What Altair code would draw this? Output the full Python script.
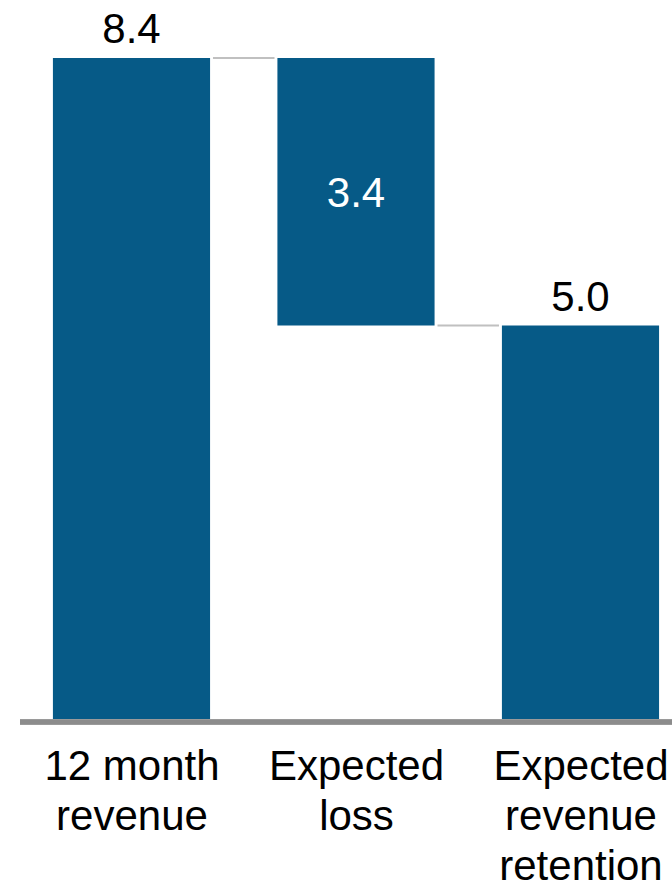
import json
import altair as alt
import pandas as pd

# ---- data ----
categories = ["12 month revenue", "Expected loss", "Expected revenue retention"]
label_lines = [["12 month", "revenue"], ["Expected", "loss"], ["Expected", "revenue", "retention"]]
changes = [8.4, -3.4, 5.0]
kinds = ["total", "delta", "total"]

# build waterfall table
rows = []
running = 0.0
for i, (c, v, k) in enumerate(zip(categories, changes, kinds)):
    if k == "total":
        start, end = 0.0, v
        running = v
    else:
        start, end = running, running + v
        running = end
    rows.append({"idx": i, "cat": c, "start": start, "end": end,
                 "top": max(start, end), "mid": (start + end) / 2,
                 "label": f"{abs(v):.1f}", "kind": k})
df = pd.DataFrame(rows)

conn = pd.DataFrame([
    {"idx": i, "level": df.loc[i, "end"]} for i in range(len(df) - 1)
])

HALF = 0.35
GAP = 0.013
FONT = "Liberation Sans"
BAR = "#065A87"

xscale = alt.Scale(domain=[-0.5857, 2.4076], nice=False, zero=False)
yscale = alt.Scale(domain=[0, 9.137], nice=False, zero=False)

label_expr = json.dumps(label_lines) + "[round(datum.value)]"

base = alt.Chart(df)

bars = base.transform_calculate(
    x0=f"datum.idx - {HALF}", x1=f"datum.idx + {HALF}"
).mark_bar(color=BAR).encode(
    x=alt.X("x0:Q", scale=xscale,
            axis=alt.Axis(values=[0, 1, 2], labelExpr=label_expr, domain=False,
                          ticks=False, grid=False, title=None, labelFont=FONT,
                          labelFontSize=42, labelColor="#000", labelLineHeight=50,
                          labelPadding=27, labelBaseline="top", labelAlign="center",
                          labelOverlap=False, labelBound=False, labelFlush=False)),
    x2="x1:Q",
    y=alt.Y("start:Q", scale=yscale, axis=None),
    y2="end:Q",
)

connectors = alt.Chart(conn).transform_calculate(
    x0=f"datum.idx + {HALF} + {GAP}", x1=f"datum.idx + 1 - {HALF} - {GAP}"
).mark_rule(color="#c0c0c0", strokeWidth=2).encode(
    x=alt.X("x0:Q", scale=xscale), x2="x1:Q",
    y=alt.Y("level:Q", scale=yscale),
)

outside = base.transform_filter("datum.kind == 'total'").mark_text(
    font=FONT, fontSize=42, color="#000", baseline="alphabetic", dy=-15
).encode(
    x=alt.X("idx:Q", scale=xscale), y=alt.Y("top:Q", scale=yscale), text="label:N"
)

inside = base.transform_filter("datum.kind == 'delta'").mark_text(
    font=FONT, fontSize=42, color="#ffffff", baseline="alphabetic", dy=15.5
).encode(
    x=alt.X("idx:Q", scale=xscale), y=alt.Y("mid:Q", scale=yscale), text="label:N"
)

baseline = alt.Chart(df).mark_rule(color="#8c8c8c", strokeWidth=5).encode(
    x=alt.value(20), x2=alt.value(672), y=alt.value(722)
)

chart = alt.layer(bars, connectors, baseline, outside, inside).properties(
    width=672, height=719,
    padding={"left": 0, "top": 0, "right": 0, "bottom": 164},
    autosize=alt.AutoSizeParams(type="none"),
    background="white",
).configure_view(stroke=None)

chart.save("out.html", embed_options={"renderer": "svg", "actions": False})
